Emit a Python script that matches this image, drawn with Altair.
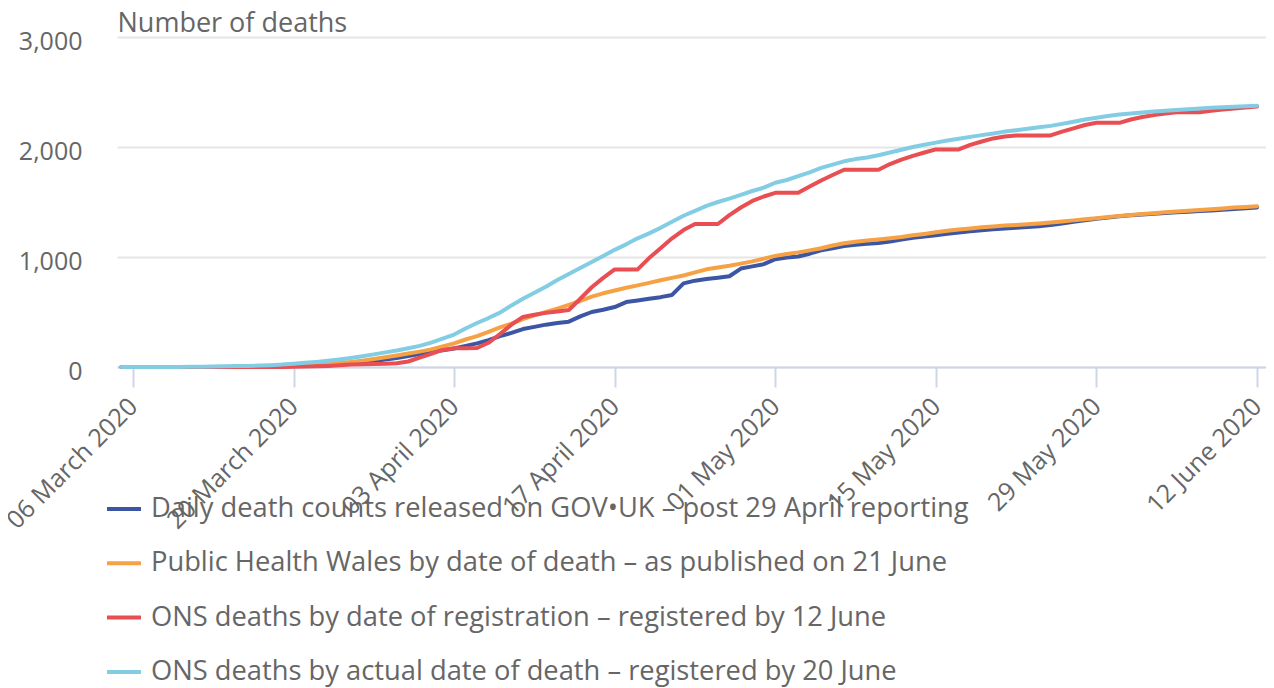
import altair as alt
import pandas as pd

dates = pd.date_range("2020-03-05", "2020-06-12", freq="D").strftime("%Y-%m-%d").tolist()

series_names = [
    "Daily death counts released on GOV\u2022UK \u2013 post 29 April reporting",
    "Public Health Wales by date of death \u2013 as published on 21 June",
    "ONS deaths by date of registration \u2013 registered by 12 June",
    "ONS deaths by actual date of death \u2013 registered by 20 June",
]
colors = ["#3c56a3", "#f7a145", "#e84e52", "#82cde4"]

gov = [0]*11 + [1, 2, 3, 5, 8, 12, 16, 22, 28, 35, 45, 55, 68, 82, 100, 117,
       135, 152, 168, 192, 215, 245, 280, 310, 345, 365, 385, 400, 412, 460, 500,
       520, 545, 590, 605, 620, 635, 655, 760, 785, 800, 812, 825, 895, 915, 935,
       980, 995, 1005, 1030, 1060, 1080, 1100, 1112, 1120, 1127, 1140, 1158, 1175,
       1187, 1198, 1211, 1222, 1233, 1244, 1252, 1260, 1267, 1273, 1280, 1290,
       1305, 1320, 1335, 1347, 1358, 1370,
       1380, 1387, 1394, 1400, 1406, 1412, 1418, 1423, 1429, 1436, 1443, 1450]

phw = [0]*9 + [1, 1, 2, 4, 6, 9, 12, 16, 21, 28, 36, 46, 58, 72, 88, 105, 122, 140,
       160, 188, 215, 250, 280, 320, 360, 395, 435, 470, 500, 530, 565, 600, 640,
       670, 695, 720, 742, 765, 788, 810, 832, 860, 888, 905, 920, 940, 960, 985,
       1010, 1028, 1042, 1060, 1080, 1105, 1125, 1138, 1150, 1160, 1170, 1182, 1197,
       1210, 1225, 1238, 1250, 1260, 1270, 1278, 1286, 1292, 1298, 1305, 1313,
       1323, 1333, 1343, 1353, 1363, 1373,
       1382, 1390, 1398, 1406, 1414, 1421, 1428, 1435, 1442, 1449, 1455, 1462]

ons_reg = [0]*15 + [2, 4, 6, 10, 15, 22, 26, 28, 30, 35, 50, 85,
           120, 155, 171, 171, 173, 220, 300, 385, 455, 475, 492, 505, 518, 620,
           725, 810, 887, 887, 887, 990, 1080, 1170, 1245, 1300, 1300, 1300, 1380,
           1450, 1510, 1550,
           1583, 1583, 1583, 1640, 1695, 1745, 1793, 1793, 1793, 1793, 1845, 1885,
           1920, 1950, 1978, 1978, 1978, 2020, 2050, 2078, 2095, 2105, 2105, 2105,
           2105, 2140, 2170, 2200, 2220, 2220, 2220,
           2250, 2272, 2290, 2305, 2315, 2315, 2315, 2330, 2340, 2350, 2360, 2368]

ons_act = [0]*4 + [1, 1, 2, 3, 4, 6, 8, 10, 13, 17, 22, 30, 38, 46, 56, 68, 82, 98,
           115, 133, 150, 170, 192,
           222, 258, 295, 350, 400, 445, 494, 560, 620, 675, 730, 790, 845, 900,
           955, 1010, 1065, 1115, 1170, 1215, 1265, 1320, 1375, 1420, 1465, 1500,
           1530, 1565, 1600, 1630,
           1675, 1700, 1735, 1770, 1810, 1840, 1870, 1890, 1905, 1925, 1950, 1975,
           2000, 2020, 2040, 2059, 2075, 2092, 2108, 2122, 2140, 2152, 2165, 2180,
           2192, 2210, 2230, 2250, 2265, 2282, 2295,
           2305, 2313, 2322, 2330, 2337, 2343, 2350, 2356, 2361, 2366, 2370, 2375]

tick_dates = ["2020-03-06", "2020-03-20", "2020-04-03", "2020-04-17",
              "2020-05-01", "2020-05-15", "2020-05-29", "2020-06-12"]
y_ticks = [0, 1000, 2000, 3000]

rows = []
for name, vals in zip(series_names, [gov, phw, ons_reg, ons_act]):
    for d, v in zip(dates, vals):
        rows.append({"date": d, "series": name, "deaths": v})
df = pd.DataFrame(rows)


def dt(s, h=0, m=0):
    y, mo, d = (int(p) for p in s.split("-"))
    return alt.DateTime(year=y, month=mo, date=d, hours=h, minutes=m, utc=True)


FONT = "Open Sans"
GREY = "#666666"

x_enc = alt.X(
    "date:T",
    scale=alt.Scale(type="utc", domain=[dt("2020-03-04", 14, 40), dt("2020-06-12", 18, 45)]),
    axis=alt.Axis(
        values=[dt(s) for s in tick_dates],
        format="%d %B %Y",
        labelAngle=-45,
        labelAlign="right",
        labelBaseline="middle",
        labelFont=FONT,
        labelFontSize=25,
        labelColor=GREY,
        labelPadding=15,
        labelFlush=False,
        labelOverlap=False,
        tickSize=20,
        tickColor="#ccd6eb",
        tickWidth=2,
        domainColor="#ccd6eb",
        domainWidth=2,
        grid=False,
        title=None,
    ),
)

y_enc = alt.Y(
    "deaths:Q",
    scale=alt.Scale(domain=[0, 3000], nice=False),
    axis=alt.Axis(
        values=y_ticks,
        format=",.0f",
        title="Number of deaths",
        titleAngle=0,
        titleX=0,
        titleY=-6,
        titleAlign="left",
        titleBaseline="alphabetic",
        titleFont=FONT,
        titleFontSize=27,
        titleFontWeight="normal",
        titleColor=GREY,
        labelFont=FONT,
        labelFontSize=25,
        labelColor=GREY,
        labelAlign="right",
        labelPadding=35,
        labelOffset=4,
        domain=False,
        ticks=False,
        gridColor="#e6e6e6",
        gridWidth=2,
    ),
)

color_enc = alt.Color(
    "series:N",
    scale=alt.Scale(domain=series_names, range=colors),
    legend=alt.Legend(
        orient="none",
        legendX=-12,
        legendY=453,
        direction="vertical",
        title=None,
        symbolType="stroke",
        symbolSize=1156,
        symbolStrokeWidth=4,
        labelFont=FONT,
        labelFontSize=27.3,
        labelColor=GREY,
        labelOffset=8,
        labelLimit=2000,
        rowPadding=21.3,
    ),
)

base = alt.Chart(df)
layers = [
    base.transform_filter(alt.datum.series == name)
    .mark_line(strokeWidth=4, strokeJoin="round", strokeCap="round")
    .encode(x=x_enc, y=y_enc, color=color_enc)
    for name in series_names
]

chart = (
    alt.layer(*layers)
    .properties(
        width=1149,
        height=330,
        autosize=alt.AutoSizeParams(type="none"),
        padding={"left": 109, "top": 29, "right": 0, "bottom": 321},
    )
    .configure_view(stroke=None)
)

chart.save("out.html", embed_options={"renderer": "svg", "actions": False})
